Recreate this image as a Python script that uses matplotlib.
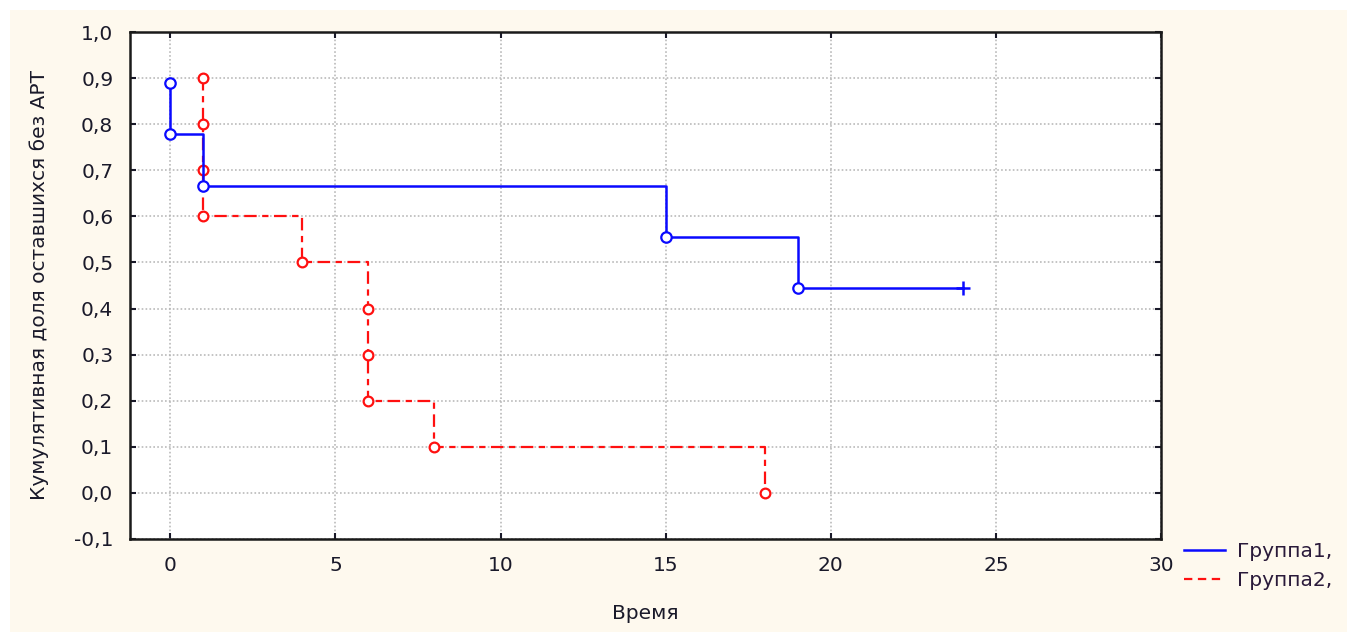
import matplotlib
matplotlib.use("Agg")
import matplotlib.pyplot as plt
from matplotlib.patches import Rectangle
from matplotlib.lines import Line2D
from matplotlib.ticker import FuncFormatter

plt.rcParams['font.family'] = ['DejaVu Sans']
plt.rcParams['lines.scale_dashes'] = False

# Kaplan-Meier estimates: event times and cumulative proportion remaining
group1_times = [0, 0, 1, 15, 19]
group1_surv = [8/9, 7/9, 6/9, 5/9, 4/9]
group1_censor_times = [24]

group2_times = [1, 1, 1, 1, 4, 6, 6, 6, 8, 18]
group2_surv = [0.9, 0.8, 0.7, 0.6, 0.5, 0.4, 0.3, 0.2, 0.1, 0.0]

series_labels = ["Группа1,", "Группа2,"]
x_label = "Время"
y_label = "Кумулятивная доля оставшихся без АРТ"
x_ticks = [0, 5, 10, 15, 20, 25, 30]
y_ticks = [-0.1, 0.0, 0.1, 0.2, 0.3, 0.4, 0.5, 0.6, 0.7, 0.8, 0.9, 1.0]

BLUE = "#0a0aff"
RED = "#ff1010"
CREAM = "#fef9ee"
TXT = "#1a1a2a"
FS = 14.5

W, H = 1347, 632
fig = plt.figure(figsize=(W / 100, H / 100), dpi=100, facecolor="white")
fig.patches.append(Rectangle((10 / W, 0), 1, 1 - 10 / H, transform=fig.transFigure,
                             facecolor=CREAM, edgecolor="none", zorder=-10))

ax = fig.add_axes([130 / W, 1 - 539 / H, (1161 - 130) / W, (539 - 32) / H])
ax.set_facecolor("white")
ax.set_xlim(-1.22, 30)
ax.set_ylim(-0.1, 1.0)
ax.set_xticks(x_ticks)
ax.set_yticks(y_ticks)
ax.yaxis.set_major_formatter(FuncFormatter(lambda v, p: f"{v:.1f}".replace(".", ",")))
ax.xaxis.set_major_formatter(FuncFormatter(lambda v, p: f"{v:.0f}"))
ax.grid(True, color="#b4b4b4", linestyle=(0, (1.2, 1.6)), linewidth=1.1)
ax.set_axisbelow(True)
ax.tick_params(direction="in", length=4, width=1.5, top=True, right=True,
               labelsize=FS, colors=TXT)
ax.tick_params(axis="y", pad=12)
ax.tick_params(axis="x", pad=12)
for s in ax.spines.values():
    s.set_linewidth(1.8)
    s.set_color("#1a1a1a")

# Group 2: dash-dot step line with open circles
red_dash = (0, (9, 4, 4.5, 4))
g2_t = group2_times
g2_s = group2_surv
ax.plot(g2_t, g2_s, drawstyle="steps-post", color=RED, lw=1.6, linestyle=red_dash, zorder=3)
ax.plot(g2_t, g2_s, "o", ms=7, mfc="white", mec=RED, mew=1.6, zorder=4)

# Group 1: solid step line with open circles and a censored mark
g1_t = group1_times + group1_censor_times
g1_s = group1_surv + [group1_surv[-1]] * len(group1_censor_times)
ax.plot(g1_t, g1_s, drawstyle="steps-post", color=BLUE, lw=1.8, zorder=5)
ax.plot(group1_times, group1_surv, "o", ms=7.5, mfc="white", mec=BLUE, mew=1.6, zorder=6)
ax.plot(group1_censor_times, [group1_surv[-1]] * len(group1_censor_times), "+",
        ms=10, mec=BLUE, mew=1.8, zorder=6)

ax.set_xlabel(x_label, fontsize=FS, color=TXT, labelpad=21)
ax.set_ylabel(y_label, fontsize=FS, color=TXT, labelpad=18)

handles = [Line2D([], [], color=BLUE, lw=1.8),
           Line2D([], [], color=RED, lw=1.6, linestyle=(0, (6, 4)))]
ax.legend(handles, series_labels, loc="upper left",
          bbox_to_anchor=(1184 / W, 1 - 542 / H), bbox_transform=fig.transFigure,
          frameon=False, fontsize=FS, handlelength=2.05, handletextpad=0.6,
          labelspacing=0.5, borderpad=0, borderaxespad=0, labelcolor="#2a1a3a")

fig.savefig("out.png", dpi=100, facecolor=fig.get_facecolor())
